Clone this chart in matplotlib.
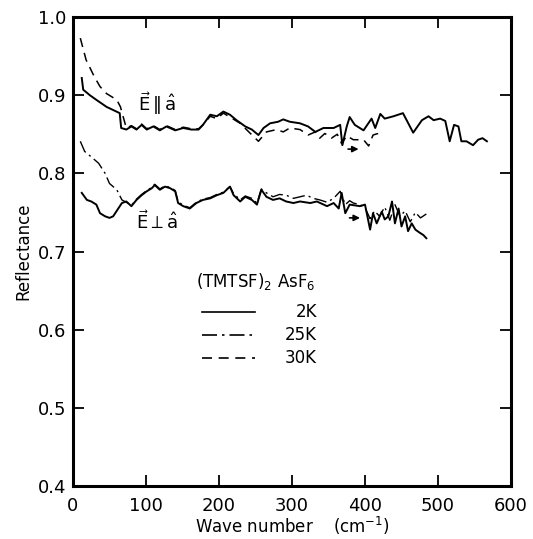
import matplotlib
matplotlib.use("Agg")
import matplotlib.pyplot as plt

plt.rcParams["font.family"] = ["DejaVu Sans"]
plt.rcParams["mathtext.fontset"] = "dejavusans"

# E parallel a, 2 K (solid)
par_2k_x = [12, 14, 23, 32, 46, 55, 64, 66, 73, 80, 87, 94, 101, 110, 119, 128, 140,
            151, 162, 172, 178, 188, 197, 206, 215, 224, 236, 245, 254, 261, 270, 281,
            288, 297, 311, 322, 332, 343, 357, 366, 369, 375, 379, 386, 398, 409, 414,
            421, 427, 439, 452, 466, 478, 487, 494, 503, 510, 516, 522, 528, 532, 539,
            548, 555, 561, 567]
par_2k_y = [0.922, 0.907, 0.900, 0.894, 0.885, 0.881, 0.877, 0.858, 0.856, 0.860, 0.856,
            0.862, 0.856, 0.860, 0.855, 0.860, 0.855, 0.858, 0.856, 0.856, 0.862, 0.875,
            0.873, 0.879, 0.875, 0.868, 0.860, 0.856, 0.849, 0.858, 0.864, 0.866, 0.869,
            0.866, 0.864, 0.860, 0.853, 0.858, 0.858, 0.862, 0.836, 0.860, 0.872, 0.862,
            0.855, 0.870, 0.858, 0.876, 0.870, 0.873, 0.877, 0.852, 0.868, 0.873, 0.868,
            0.870, 0.867, 0.841, 0.862, 0.860, 0.841, 0.841, 0.836, 0.843, 0.845, 0.841]

# E parallel a, 30 K (dashed)
par_30k_x = [10, 18, 29, 37, 46, 53, 60, 65, 73, 80, 87, 94, 101, 110, 119, 128, 140,
             151, 162, 172, 178, 188, 197, 206, 215, 229, 243, 254, 265, 279, 288, 297,
             311, 322, 332, 338, 345, 354, 362, 368, 375, 384, 398, 405, 411, 418]
par_30k_y = [0.973, 0.945, 0.924, 0.911, 0.902, 0.898, 0.894, 0.885, 0.858, 0.861, 0.857,
             0.863, 0.857, 0.861, 0.856, 0.861, 0.856, 0.859, 0.857, 0.857, 0.862, 0.873,
             0.870, 0.877, 0.872, 0.864, 0.851, 0.841, 0.853, 0.856, 0.853, 0.858, 0.856,
             0.849, 0.853, 0.845, 0.851, 0.845, 0.850, 0.838, 0.848, 0.843, 0.843, 0.835,
             0.849, 0.851]

# E perpendicular a, 2 K (solid)
perp_2k_x = [12, 19, 25, 32, 37, 44, 50, 55, 62, 67, 73, 80, 87, 94, 101, 108, 112, 119,
             126, 133, 140, 144, 151, 160, 169, 178, 188, 197, 206, 215, 220, 229, 236,
             245, 252, 258, 265, 274, 283, 292, 302, 311, 325, 334, 348, 357, 364, 368,
             373, 379, 393, 400, 407, 411, 416, 423, 427, 432, 437, 441, 446, 450, 455,
             459, 464, 469, 475, 480, 484]
perp_2k_y = [0.775, 0.766, 0.764, 0.760, 0.749, 0.745, 0.743, 0.745, 0.755, 0.762, 0.764,
             0.758, 0.766, 0.772, 0.777, 0.781, 0.785, 0.779, 0.783, 0.781, 0.777, 0.762,
             0.758, 0.755, 0.762, 0.766, 0.768, 0.772, 0.775, 0.783, 0.772, 0.764, 0.770,
             0.766, 0.760, 0.779, 0.770, 0.766, 0.768, 0.764, 0.762, 0.764, 0.762, 0.764,
             0.758, 0.762, 0.755, 0.775, 0.749, 0.760, 0.758, 0.760, 0.728, 0.749, 0.736,
             0.751, 0.741, 0.745, 0.764, 0.736, 0.755, 0.732, 0.745, 0.726, 0.736, 0.728,
             0.724, 0.721, 0.717]

# E perpendicular a, 25 K (dash-dot)
perp_25k_x = [10, 16, 25, 35, 44, 50, 60, 67, 73, 80, 87, 94, 101, 108, 112, 119, 126,
              133, 140, 144, 151, 160, 169, 178, 188, 197, 206, 215, 220, 229, 236, 245,
              252, 258, 265, 274, 283, 292, 302, 311, 320, 329, 338, 348, 357, 366, 373,
              379, 384, 393, 400, 407, 413, 420, 427, 434, 441, 448, 455, 462, 469, 476,
              484]
perp_25k_y = [0.841, 0.828, 0.821, 0.813, 0.800, 0.787, 0.779, 0.766, 0.763, 0.759, 0.767,
              0.773, 0.778, 0.782, 0.786, 0.780, 0.784, 0.782, 0.778, 0.764, 0.759, 0.756,
              0.763, 0.767, 0.769, 0.773, 0.776, 0.783, 0.774, 0.766, 0.771, 0.768, 0.762,
              0.780, 0.775, 0.770, 0.773, 0.772, 0.768, 0.770, 0.772, 0.768, 0.766, 0.763,
              0.768, 0.777, 0.760, 0.765, 0.762, 0.760, 0.756, 0.742, 0.752, 0.745, 0.757,
              0.740, 0.760, 0.745, 0.752, 0.738, 0.750, 0.743, 0.748]

x_ticks = [0, 100, 200, 300, 400, 500, 600]
y_ticks = [0.4, 0.5, 0.6, 0.7, 0.8, 0.9, 1.0]
legend_labels = ["2K", "25K", "30K"]

DASHDOT = (0, (9, 3, 1.5, 3))
DASHED = (0, (6, 4))

fig = plt.figure(figsize=(5.33, 5.39), dpi=100)
ax = fig.add_axes([73 / 533, 53 / 539, 438 / 533, 469 / 539])

ax.plot(par_2k_x, par_2k_y, color="black", lw=1.4)
ax.plot(par_30k_x, par_30k_y, color="black", lw=1.1, linestyle=DASHED)
ax.plot(perp_25k_x, perp_25k_y, color="black", lw=1.0, linestyle=DASHDOT)
ax.plot(perp_2k_x, perp_2k_y, color="black", lw=1.4)

ax.set_xlim(0, 600)
ax.set_ylim(0.4, 1.0)
ax.set_xticks(x_ticks)
ax.set_yticks(y_ticks)
ax.set_xticklabels([str(t) for t in x_ticks])
ax.set_yticklabels([f"{t:.1f}" for t in y_ticks])
ax.tick_params(direction="in", length=8, width=1.3, top=True, right=True,
               labelsize=13)
ax.tick_params(axis="x", pad=8)
ax.tick_params(axis="y", pad=5)
for spine in ax.spines.values():
    spine.set_linewidth(2.2)

ax.set_xlabel(r"Wave number    (cm$^{-1}$)", fontsize=12, labelpad=0)
ax.set_ylabel("Reflectance", fontsize=12, labelpad=4)

ax.text(115, 0.889, r"$\vec{\mathrm{E}}\,\Vert\,\hat{\mathrm{a}}$", fontsize=13,
        ha="center", va="center")
ax.text(116, 0.738, r"$\vec{\mathrm{E}}\perp\hat{\mathrm{a}}$", fontsize=13,
        ha="center", va="center")

# small arrows after the breaks
ax.annotate("", xy=(395, 0.831), xytext=(373, 0.831),
            arrowprops=dict(arrowstyle="-|>", color="black", lw=1.2, mutation_scale=9))
ax.annotate("", xy=(397, 0.743), xytext=(375, 0.743),
            arrowprops=dict(arrowstyle="-|>", color="black", lw=1.2, mutation_scale=9))

# hand-drawn legend
ax.text(168, 0.662, r"(TMTSF)$_2$ AsF$_6$", fontsize=12, ha="left", va="center")
legend_y = [0.623, 0.593, 0.564]
legend_styles = ["-", DASHDOT, DASHED]
for label, yy, style in zip(legend_labels, legend_y, legend_styles):
    ax.plot([177, 249], [yy, yy], color="black", lw=1.2, linestyle=style)
    ax.text(334, yy, label, fontsize=12, ha="right", va="center")

fig.savefig("out.png", dpi=100)
